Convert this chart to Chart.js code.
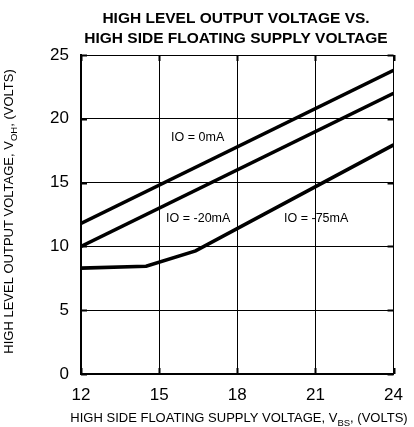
<!DOCTYPE html>
<html>
<head>
<meta charset="utf-8">
<script src="https://cdn.jsdelivr.net/npm/chart.js@4/dist/chart.umd.min.js"></script>
<style>
  html, body { margin: 0; padding: 0; background: #fff; }
  #wrap { width: 414px; height: 427px; position: relative; }
</style>
</head>
<body>
<div id="wrap"><canvas id="vohChart"></canvas></div>
<script>
// data
const xTicks = [12, 15, 18, 21, 24];
const yTicks = [0, 5, 10, 15, 20, 25];

const io0X = [12, 24];
const io0Y = [11.8, 23.8];

const io20X = [12, 24];
const io20Y = [10.0, 22.0];

const io75X = [12, 14.5, 16.4, 24];
const io75Y = [8.3, 8.45, 9.65, 17.95];

const curveLabels = ['IO = 0mA', 'IO = -20mA', 'IO = -75mA'];
const labelX = [16.48, 16.5, 21.03];
const labelY = [18.5, 12.2, 12.2];

const FONT = '"Liberation Sans", Arial, Helvetica, sans-serif';

function toPoints(xs, ys) {
    return xs.map((x, i) => ({ x: x, y: ys[i] }));
}

function lineSet(label, xs, ys) {
    return {
        label: label,
        data: toPoints(xs, ys),
        borderColor: '#000',
        borderWidth: 3.6,
        pointRadius: 0,
        tension: 0,
        fill: false
    };
}

// draws titles with subscripts, curve labels and inward tick marks
const decorations = {
    id: 'decorations',
    afterDraw(chart) {
        const c = chart.ctx;
        const area = chart.chartArea;
        const xs = chart.scales.x;
        const ys = chart.scales.y;

        c.save();
        c.fillStyle = '#000';
        c.strokeStyle = '#000';

        // inward ticks
        c.lineWidth = 2;
        xTicks.forEach(v => {
            const px = Math.round(xs.getPixelForValue(v)) + 0.5;
            c.beginPath();
            c.moveTo(px, area.top); c.lineTo(px, area.top + 6);
            c.moveTo(px, area.bottom); c.lineTo(px, area.bottom - 6);
            c.stroke();
        });
        yTicks.forEach(v => {
            const py = Math.round(ys.getPixelForValue(v)) + 0.5;
            c.beginPath();
            c.moveTo(area.left, py); c.lineTo(area.left + 6, py);
            c.moveTo(area.right, py); c.lineTo(area.right - 6, py);
            c.stroke();
        });

        // chart title
        c.font = 'bold 15.5px ' + FONT;
        c.textAlign = 'center';
        c.textBaseline = 'alphabetic';
        c.fillText('HIGH LEVEL OUTPUT VOLTAGE VS.', 236, 23);
        c.fillText('HIGH SIDE FLOATING SUPPLY VOLTAGE', 236, 43);

        // curve labels
        c.font = '12.5px ' + FONT;
        c.textBaseline = 'middle';
        curveLabels.forEach((t, i) => {
            c.fillText(t, xs.getPixelForValue(labelX[i]), ys.getPixelForValue(labelY[i]));
        });

        // axis titles with subscript
        function subText(parts, cx, cy) {
            const big = '13px ' + FONT;
            const small = '9.5px ' + FONT;
            let w = 0;
            parts.forEach(p => { c.font = p.sub ? small : big; w += c.measureText(p.t).width; });
            let x = cx - w / 2;
            c.textAlign = 'left';
            c.textBaseline = 'alphabetic';
            parts.forEach(p => {
                c.font = p.sub ? small : big;
                c.fillText(p.t, x, cy + (p.sub ? 3.5 : 0));
                x += c.measureText(p.t).width;
            });
        }

        subText([
            { t: 'HIGH SIDE FLOATING SUPPLY VOLTAGE, V' },
            { t: 'BS', sub: true },
            { t: ', (VOLTS)' }
        ], 239, 422);

        c.translate(13, (area.top + area.bottom) / 2 - 3);
        c.rotate(-Math.PI / 2);
        subText([
            { t: 'HIGH LEVEL OUTPUT VOLTAGE, V' },
            { t: 'OH', sub: true },
            { t: ', (VOLTS)' }
        ], 0, 0);

        c.restore();
    }
};

const ctx = document.getElementById('vohChart');

new Chart(ctx, {
    type: 'line',
    data: {
        datasets: [
            lineSet(curveLabels[0], io0X, io0Y),
            lineSet(curveLabels[1], io20X, io20Y),
            lineSet(curveLabels[2], io75X, io75Y)
        ]
    },
    options: {
        responsive: true,
        maintainAspectRatio: false,
        animation: false,
        layout: {
            padding: { top: 55, right: 14, left: 0, bottom: 0 }
        },
        plugins: {
            legend: { display: false },
            title: { display: false },
            tooltip: { enabled: false }
        },
        scales: {
            x: {
                type: 'linear',
                min: 12,
                max: 24,
                afterFit(scale) { scale.height = 53; },
                afterBuildTicks(scale) { scale.ticks = xTicks.map(v => ({ value: v })); },
                ticks: {
                    color: '#000',
                    padding: 11,
                    font: { family: FONT, size: 17 }
                },
                grid: { color: '#000', lineWidth: 1, drawTicks: false },
                border: { display: true, color: '#000', width: 2 }
            },
            y: {
                min: 0,
                max: 25,
                afterFit(scale) { scale.width = 81; },
                afterBuildTicks(scale) { scale.ticks = yTicks.map(v => ({ value: v })); },
                ticks: {
                    color: '#000',
                    padding: 12,
                    font: { family: FONT, size: 17 }
                },
                grid: { color: '#000', lineWidth: 1, drawTicks: false },
                border: { display: true, color: '#000', width: 2 }
            }
        }
    },
    plugins: [decorations]
});
</script>
</body>
</html>
